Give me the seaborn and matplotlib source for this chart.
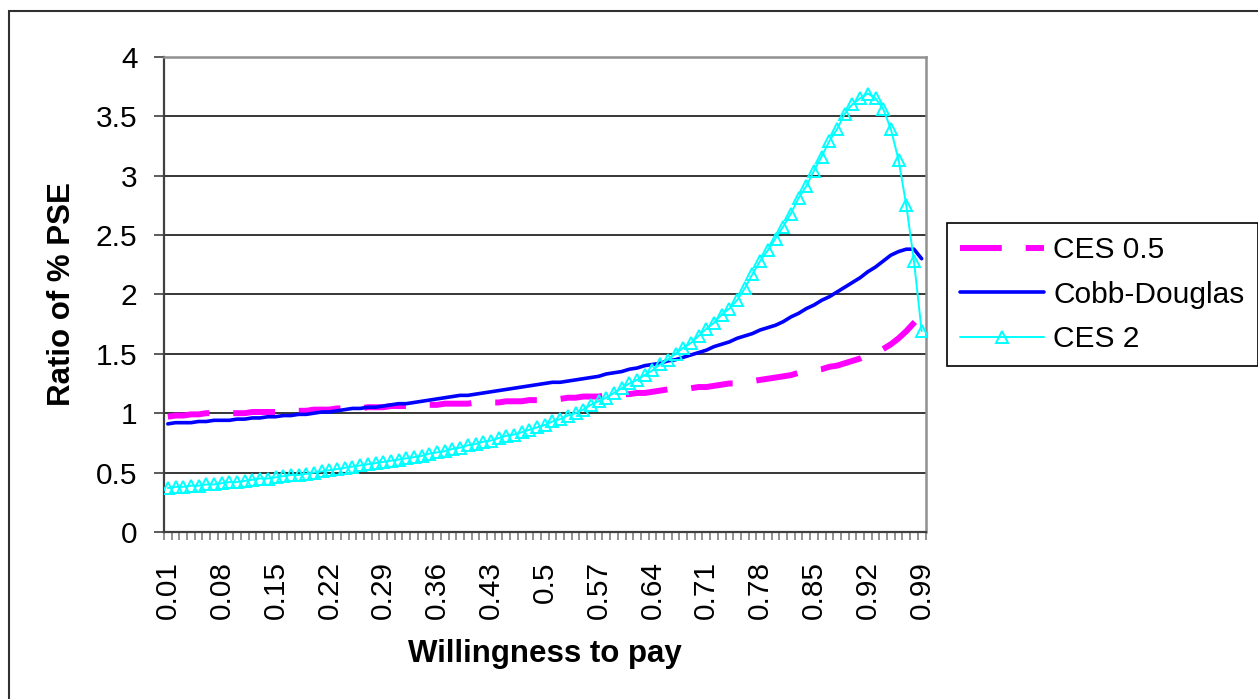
import numpy as np
import pandas as pd
import seaborn as sns
import matplotlib.pyplot as plt
from matplotlib.patches import Rectangle

# ---------------------------------------
# Data
# ---------------------------------------
wtp = [f"{k / 100:g}" for k in range(1, 100)]

ces_05 = [
    0.97, 0.98, 0.98, 0.99, 0.99, 1.00, 1.00, 1.00, 1.00, 1.00,
    1.00, 1.01, 1.01, 1.01, 1.01, 1.02, 1.02, 1.02, 1.02, 1.03,
    1.03, 1.03, 1.04, 1.04, 1.04, 1.04, 1.05, 1.05, 1.05, 1.06,
    1.06, 1.06, 1.06, 1.07, 1.07, 1.07, 1.08, 1.08, 1.08, 1.08,
    1.09, 1.09, 1.09, 1.09, 1.10, 1.10, 1.10, 1.11, 1.11, 1.11,
    1.12, 1.12, 1.13, 1.13, 1.14, 1.14, 1.14, 1.15, 1.15, 1.16,
    1.16, 1.17, 1.17, 1.18, 1.19, 1.20, 1.20, 1.21, 1.21, 1.22,
    1.22, 1.23, 1.24, 1.25, 1.25, 1.26, 1.27, 1.28, 1.29, 1.30,
    1.31, 1.32, 1.34, 1.35, 1.36, 1.37, 1.39, 1.40, 1.42, 1.44,
    1.46, 1.49, 1.51, 1.54, 1.58, 1.63, 1.69, 1.76, 1.83,
]

cobb_douglas = [
    0.91, 0.92, 0.92, 0.92, 0.93, 0.93, 0.94, 0.94, 0.94, 0.95,
    0.95, 0.96, 0.96, 0.97, 0.97, 0.98, 0.98, 0.99, 0.99, 1.00,
    1.01, 1.01, 1.02, 1.03, 1.04, 1.04, 1.05, 1.05, 1.06, 1.07,
    1.08, 1.08, 1.09, 1.10, 1.11, 1.12, 1.13, 1.14, 1.15, 1.15,
    1.16, 1.17, 1.18, 1.19, 1.20, 1.21, 1.22, 1.23, 1.24, 1.25,
    1.26, 1.26, 1.27, 1.28, 1.29, 1.30, 1.31, 1.33, 1.34, 1.35,
    1.37, 1.38, 1.40, 1.41, 1.42, 1.44, 1.45, 1.47, 1.49, 1.51,
    1.53, 1.56, 1.58, 1.60, 1.63, 1.65, 1.67, 1.70, 1.72, 1.74,
    1.77, 1.81, 1.84, 1.88, 1.91, 1.95, 1.98, 2.02, 2.06, 2.10,
    2.14, 2.19, 2.23, 2.28, 2.33, 2.36, 2.38, 2.38, 2.30,
]

ces_2 = [
    0.37, 0.38, 0.38, 0.39, 0.39, 0.40, 0.40, 0.41, 0.42, 0.42,
    0.43, 0.44, 0.45, 0.45, 0.46, 0.47, 0.48, 0.48, 0.49, 0.50,
    0.51, 0.52, 0.53, 0.54, 0.55, 0.56, 0.57, 0.58, 0.59, 0.60,
    0.61, 0.62, 0.63, 0.64, 0.66, 0.67, 0.68, 0.70, 0.71, 0.73,
    0.74, 0.76, 0.77, 0.79, 0.81, 0.82, 0.84, 0.86, 0.88, 0.90,
    0.93, 0.95, 0.98, 1.00, 1.03, 1.07, 1.10, 1.13, 1.17, 1.21,
    1.25, 1.28, 1.32, 1.36, 1.41, 1.45, 1.50, 1.55, 1.59, 1.65,
    1.71, 1.76, 1.83, 1.88, 1.95, 2.05, 2.17, 2.28, 2.37, 2.47,
    2.57, 2.68, 2.81, 2.91, 3.04, 3.16, 3.29, 3.39, 3.52, 3.60,
    3.65, 3.69, 3.65, 3.56, 3.39, 3.13, 2.75, 2.28, 1.69,
]

y_ticks = [0, 0.5, 1, 1.5, 2, 2.5, 3, 3.5, 4]

df = pd.DataFrame({
    "pos": np.arange(len(wtp)),
    "wtp": wtp,
    "CES 0.5": ces_05,
    "Cobb-Douglas": cobb_douglas,
    "CES 2": ces_2,
})

# ---------------------------------------
# Styling
# ---------------------------------------
sns.set_style("white")
plt.rcParams["font.family"] = ["Liberation Sans", "DejaVu Sans"]
plt.rcParams["text.color"] = "black"
plt.rcParams["axes.labelcolor"] = "black"
plt.rcParams["xtick.color"] = "black"
plt.rcParams["ytick.color"] = "black"

fig = plt.figure(figsize=(12.58, 6.99), dpi=100)
ax = fig.add_axes([164 / 1258, 1 - 532 / 699, 761.5 / 1258, 475.3 / 699])

# ---------------------------------------
# Lines
# ---------------------------------------
sns.lineplot(data=df, x="pos", y="CES 0.5", ax=ax, color="#FF00FF",
             linewidth=4.3, linestyle=(0, (7, 4)), dash_capstyle="butt",
             label="CES 0.5", zorder=3)
sns.lineplot(data=df, x="pos", y="Cobb-Douglas", ax=ax, color="#0000FF",
             linewidth=2.6, label="Cobb-Douglas", zorder=4)
sns.lineplot(data=df, x="pos", y="CES 2", ax=ax, color="#00FFFF",
             linewidth=1.4, marker="^", markersize=8.5,
             markerfacecolor="none", markeredgecolor="#00FFFF",
             markeredgewidth=1.4, label="CES 2", zorder=5)

# ---------------------------------------
# Axes
# ---------------------------------------
ax.set_xlim(-0.5, len(wtp) - 0.5)
ax.set_ylim(0, 4)

label_pos = list(range(0, len(wtp), 7))
ax.set_xticks(label_pos)
ax.set_xticklabels([wtp[i] for i in label_pos], rotation=90, fontsize=21.5)
ax.set_xticks(np.arange(-0.5, len(wtp), 1), minor=True)
ax.tick_params(axis="x", which="major", length=0, pad=21)
ax.tick_params(axis="x", which="minor", bottom=True, length=6,
               width=1.2, color="#808080")

ax.set_yticks(y_ticks)
ax.set_yticklabels([f"{v:g}" for v in y_ticks], fontsize=21.5)
ax.tick_params(axis="y", which="major", left=True, length=7, width=1.2,
               color="#404040", pad=12)

ax.yaxis.grid(True, color="black", linewidth=1.1)
ax.xaxis.grid(False)
ax.set_axisbelow(True)

for side in ["left", "bottom"]:
    ax.spines[side].set_color("#404040")
    ax.spines[side].set_linewidth(1.6)
for side in ["top", "right"]:
    ax.spines[side].set_color("#909090")
    ax.spines[side].set_linewidth(1.8)

ax.set_xlabel("Willingness to pay", fontsize=22.5, fontweight="bold")
ax.set_ylabel("Ratio of % PSE", fontsize=22.5, fontweight="bold")
ax.xaxis.set_label_coords(0.5, -0.225)
ax.yaxis.set_label_coords(-0.114, 0.5)

# ---------------------------------------
# Legend
# ---------------------------------------
leg = ax.legend(loc="upper left", bbox_to_anchor=(947 / 1258, 1 - 222.7 / 699),
                bbox_transform=fig.transFigure, borderaxespad=0,
                frameon=True, fancybox=False, edgecolor="black",
                fontsize=21.5, handlelength=2.8, handletextpad=0.3,
                borderpad=0.45, labelspacing=0.55)
leg.get_frame().set_linewidth(1.2)
leg.get_frame().set_alpha(1)

# outer chart border
fig.add_artist(Rectangle((8.5 / 1258, -0.05), 1.1, 1 - 10.7 / 699 + 0.05,
                         transform=fig.transFigure, fill=False,
                         edgecolor="#303030", linewidth=1.5))

# ---------------------------------------
# Save Output
# ---------------------------------------
plt.savefig("out.png", dpi=100)
plt.close()
